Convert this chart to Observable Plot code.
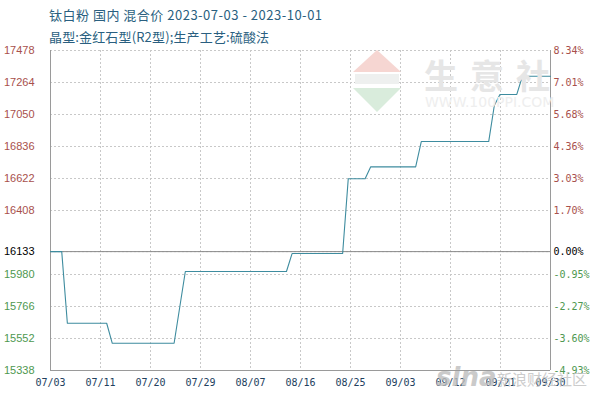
<!DOCTYPE html>
<html>
<head>
<meta charset="utf-8">
<script src="https://cdn.jsdelivr.net/npm/d3@7"></script>
<script src="https://cdn.jsdelivr.net/npm/@observablehq/plot@0.6"></script>
<style>
  html, body { margin: 0; padding: 0; background: #fff; }
  #wrap { position: relative; width: 600px; height: 400px; overflow: hidden; }
  #chart { position: absolute; left: 0; top: 0; }
  .title { position: absolute; left: 49px; font-family: "Noto Sans CJK SC", "Noto Sans", sans-serif; font-size: 13px; color: #2a5f80; white-space: nowrap; }
  .wm { position: absolute; white-space: nowrap; pointer-events: none; }
</style>
</head>
<body>
<div id="wrap">
  <div id="chart"></div>
  <div class="wm" style="left:353px;top:50px;width:0;height:0;border-left:24px solid transparent;border-right:24px solid transparent;border-bottom:22px solid #f6d6d2;"></div>
  <div class="wm" style="left:355px;top:74px;width:44px;height:10px;background:#eef0ef;"></div>
  <div class="wm" style="left:353px;top:88px;width:0;height:0;border-left:24px solid transparent;border-right:24px solid transparent;border-top:24px solid #d9ecdc;"></div>
  <div class="wm" style="left:424px;top:50px;font-family:'Noto Sans CJK SC';font-size:34px;letter-spacing:12px;color:#e6e6e6;font-weight:bold;">生意社</div>
  <div class="wm" style="left:425px;top:94px;font-family:'DejaVu Sans';font-size:14px;color:#eeeeee;">WWW.100PPI.COM</div>
  <div class="wm" style="left:436px;top:362px;font-family:'DejaVu Sans';font-size:26px;font-style:italic;font-weight:bold;color:#bdbdbd;opacity:0.8;">sina</div>
  <div class="wm" style="left:497px;top:368px;font-family:'Noto Sans CJK SC';font-size:15px;color:#c4c4c4;opacity:0.85;">新浪财经社区</div>
  <div class="title" style="top:5px;letter-spacing:0.5px;">钛白粉 国内 混合价 2023-07-03 - 2023-10-01</div>
  <div class="title" style="top:27px;letter-spacing:0.15px;">晶型:金红石型(R2型);生产工艺:硫酸法</div>
</div>
<script>
// ---- data ----
const dates = ["2023-07-03","2023-07-05","2023-07-06","2023-07-13","2023-07-14","2023-07-25","2023-07-27","2023-08-14","2023-08-15","2023-08-24","2023-08-25","2023-08-28","2023-08-29","2023-09-06","2023-09-07","2023-09-19","2023-09-20","2023-09-21","2023-09-24","2023-09-25","2023-09-30"];
const prices = [16133,16133,15654,15654,15520,15520,16000,16000,16120,16120,16620,16620,16700,16700,16869,16869,17110,17184,17184,17306,17306];
const basePrice = 16133;
const yTicks = [17478,17264,17050,16836,16622,16408,16133,15980,15766,15552,15338];
const pctLabels = ["8.34%","7.01%","5.68%","4.36%","3.03%","1.70%","0.00%","-0.95%","-2.27%","-3.60%","-4.93%"];
const xTickLabels = ["07/03","07/11","07/20","07/29","08/07","08/16","08/25","09/03","09/12","09/21","09/30"];
const xStart = "2023-07-03", xEnd = "2023-09-30";

// ---- build ----
const series = dates.map((d, i) => ({date: new Date(d), price: prices[i]}));
const t0 = new Date(xStart), t1 = new Date(xEnd);
const xTicks = xTickLabels.map((lab, i) => ({date: new Date(+t0 + i * (t1 - t0) / (xTickLabels.length - 1)), label: lab}));
const yTickData = yTicks.map((v, i) => ({v, pct: pctLabels[i]}));
const colorFor = v => v > basePrice ? "#a8504c" : v < basePrice ? "#4e9850" : "#000";

const plot = Plot.plot({
  width: 600,
  height: 400,
  marginTop: 50,
  marginBottom: 30,
  marginLeft: 50,
  marginRight: 50,
  style: {background: "transparent", overflow: "visible"},
  x: {type: "utc", domain: [t0, t1], axis: null},
  y: {domain: [yTicks[yTicks.length - 1], yTicks[0]], axis: null},
  marks: [
    Plot.ruleY(yTicks, {stroke: "#c8c8c8", strokeDasharray: "2,2", strokeWidth: 1}),
    Plot.ruleX(xTicks, {x: "date", stroke: "#c8c8c8", strokeDasharray: "2,2", strokeWidth: 1}),
    Plot.ruleY([basePrice], {stroke: "#8a8a8a", strokeWidth: 1}),
    Plot.ruleX([t0, t1], {stroke: "#9a9a9a", strokeWidth: 1}),
    Plot.ruleY([yTicks[yTicks.length - 1]], {stroke: "#9a9a9a", strokeWidth: 1}),
    Plot.line(series, {x: "date", y: "price", stroke: "#3e8c9f", strokeWidth: 1.1}),
    Plot.text(yTickData, {y: "v", text: d => String(d.v), frameAnchor: "left", textAnchor: "end", dx: -16,
      fill: d => colorFor(d.v), fontFamily: "Liberation Sans, sans-serif", fontSize: 11}),
    Plot.text(yTickData, {y: "v", text: "pct", frameAnchor: "right", textAnchor: "start", dx: 3,
      fill: d => colorFor(d.v), fontFamily: "DejaVu Sans Mono, monospace", fontSize: 10}),
    Plot.text(xTicks, {x: "date", text: "label", frameAnchor: "bottom", dy: 15,
      fill: "#22405e", fontFamily: "DejaVu Sans Mono, monospace", fontSize: 10})
  ]
});
document.getElementById("chart").appendChild(plot);
</script>
</body>
</html>
